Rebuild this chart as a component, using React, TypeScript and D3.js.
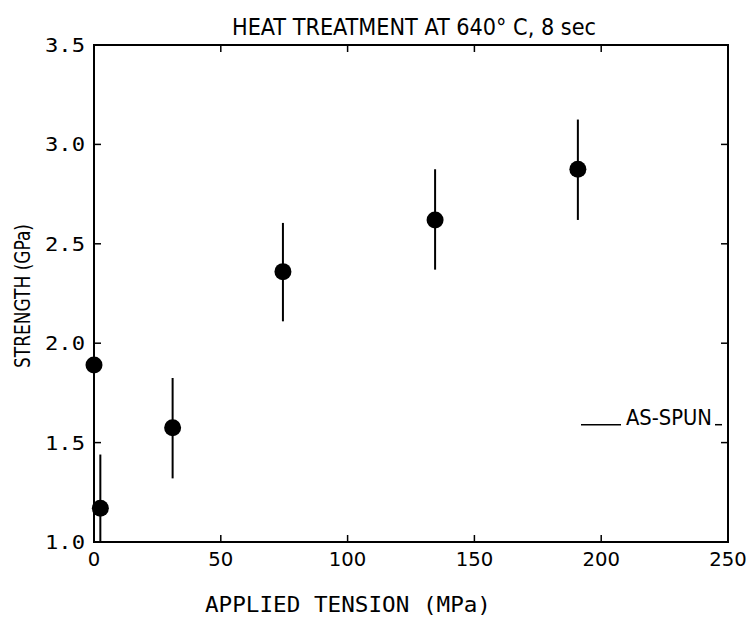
import React from "react";
import * as d3 from "d3";

const tensions = [0, 2.5, 31, 74.5, 134.5, 190.8];
const strengths = [1.89, 1.17, 1.575, 2.36, 2.62, 2.875];
const errLow = [1.0, 0.9, 1.32, 2.11, 2.37, 2.62];
const errHigh = [2.14, 1.44, 1.825, 2.605, 2.875, 3.125];
const xTicks = [0, 50, 100, 150, 200, 250];
const yTicks = [1.0, 1.5, 2.0, 2.5, 3.0, 3.5];
const asSpun = 1.59;
const titleText = "HEAT TREATMENT AT 640° C,  8 sec";
const xTitle = "APPLIED TENSION (MPa)";
const yTitle = "STRENGTH (GPa)";
const asSpunLabel = "AS-SPUN";

const W = 748;
const H = 619;
const L = 94, R = 728, T = 45, B = 542;

export default function App() {
  const x = d3.scaleLinear().domain([0, 250]).range([L, R]);
  const y = d3.scaleLinear().domain([1.0, 3.5]).range([B, T]);
  const clampY = (v: number) => y(Math.max(1.0, Math.min(3.5, v)));
  const tick = 7;
  const cond = "'DejaVu Sans Condensed', 'DejaVu Sans', sans-serif";
  const mono = "'DejaVu Sans Mono', monospace";

  return (
    <svg width={W} height={H} style={{ position: "absolute", left: 0, top: 0, background: "#fff" }}>
      <rect x={0} y={0} width={W} height={H} fill="#fff" />
      {/* title */}
      <text x={414} y={35} textAnchor="middle" fontFamily={cond} fontSize={23}
        textLength={364} lengthAdjust="spacingAndGlyphs" fill="#000">{titleText}</text>

      {/* frame */}
      <rect x={L} y={T} width={R - L} height={B - T} fill="none" stroke="#000" strokeWidth={2} />

      {/* x ticks */}
      {xTicks.map((t) => (
        <g key={"xt" + t}>
          {t > 0 && t < 250 && (
            <>
              <line x1={x(t)} x2={x(t)} y1={B} y2={B - tick} stroke="#000" strokeWidth={1.5} />
              <line x1={x(t)} x2={x(t)} y1={T} y2={T + tick} stroke="#000" strokeWidth={1.5} />
            </>
          )}
          <text x={x(t)} y={566} textAnchor="middle" fontFamily={cond} fontSize={19}
            textLength={String(t).length * 12.5} lengthAdjust="spacingAndGlyphs" fill="#000">{t}</text>
        </g>
      ))}

      {/* y ticks */}
      {yTicks.map((t) => (
        <g key={"yt" + t}>
          {t > 1 && t < 3.5 && (
            <>
              <line x1={L} x2={L + tick} y1={y(t)} y2={y(t)} stroke="#000" strokeWidth={1.5} />
              <line x1={R} x2={R - tick} y1={y(t)} y2={y(t)} stroke="#000" strokeWidth={1.5} />
            </>
          )}
          <text x={85} y={y(t) + 7} textAnchor="end" fontFamily={mono} fontSize={20}
            textLength={40} lengthAdjust="spacingAndGlyphs" fill="#000">{t.toFixed(1)}</text>
        </g>
      ))}

      {/* axis titles */}
      <text x={348} y={612} textAnchor="middle" fontFamily={mono} fontSize={22}
        textLength={286} lengthAdjust="spacingAndGlyphs" fill="#000">{xTitle}</text>
      <text transform={`translate(30, 296) rotate(-90)`} textAnchor="middle" fontFamily={cond}
        fontSize={22} textLength={144} lengthAdjust="spacingAndGlyphs" fill="#000">{yTitle}</text>

      {/* as-spun */}
      <line x1={581} x2={621} y1={y(asSpun)} y2={y(asSpun)} stroke="#000" strokeWidth={1.5} />
      <text x={626} y={y(asSpun)} fontFamily={cond} fontSize={22} textLength={86}
        lengthAdjust="spacingAndGlyphs" fill="#000">{asSpunLabel}</text>
      <line x1={715} x2={722} y1={y(asSpun)} y2={y(asSpun)} stroke="#000" strokeWidth={1.5} />

      {/* error bars and points */}
      {tensions.map((t, i) => (
        <g key={"p" + i}>
          <line x1={x(t)} x2={x(t)} y1={clampY(errLow[i])} y2={clampY(errHigh[i])} stroke="#000" strokeWidth={2} />
          <circle cx={x(t)} cy={y(strengths[i])} r={8.5} fill="#000" />
        </g>
      ))}
    </svg>
  );
}
